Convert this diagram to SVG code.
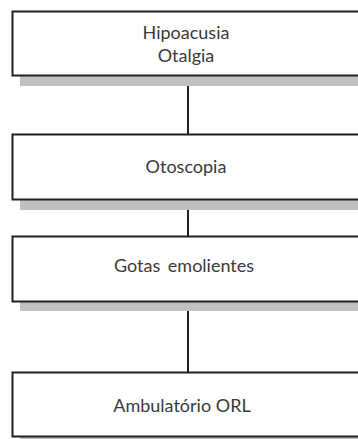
<svg xmlns="http://www.w3.org/2000/svg" width="358" height="439" viewBox="0 0 358 439">
<style>
.box{fill:#fff;stroke:#231f20;stroke-width:2}
.sh{fill:#bfc0c2}
.t{font-family:Lato,"Open Sans",sans-serif;font-size:18px;fill:#3a3a3a;text-anchor:middle}
.c{stroke:#231f20;stroke-width:2;fill:none}
</style>
<rect width="358" height="439" fill="#fff"/>
<g id="connectors">
<line class="c" x1="188" y1="86" x2="188" y2="134"/>
<line class="c" x1="188" y1="210" x2="188" y2="236"/>
<line class="c" x1="188" y1="311" x2="188" y2="372"/>
</g>
<g id="n1">
<rect class="sh" x="20" y="76" width="345" height="10"/>
<rect class="box" x="12.5" y="11.5" width="360" height="64"/>
<text class="t" x="186" y="38.5">Hipoacusia</text>
<text class="t" x="186" y="61.5">Otalgia</text>
</g>
<g id="n2">
<rect class="sh" x="20" y="200" width="345" height="10"/>
<rect class="box" x="12.5" y="134.5" width="360" height="65"/>
<text class="t" x="186" y="173">Otoscopia</text>
</g>
<g id="n3">
<rect class="sh" x="20" y="302" width="345" height="9"/>
<rect class="box" x="12.5" y="236.5" width="360" height="65"/>
<text class="t" x="184" y="272" word-spacing="3">Gotas emolientes</text>
</g>
<g id="n4">
<rect class="sh" x="20" y="437" width="345" height="3"/>
<rect class="box" x="12.5" y="372.5" width="360" height="64"/>
<text class="t" x="182" y="412">Ambulatório ORL</text>
</g>
</svg>
